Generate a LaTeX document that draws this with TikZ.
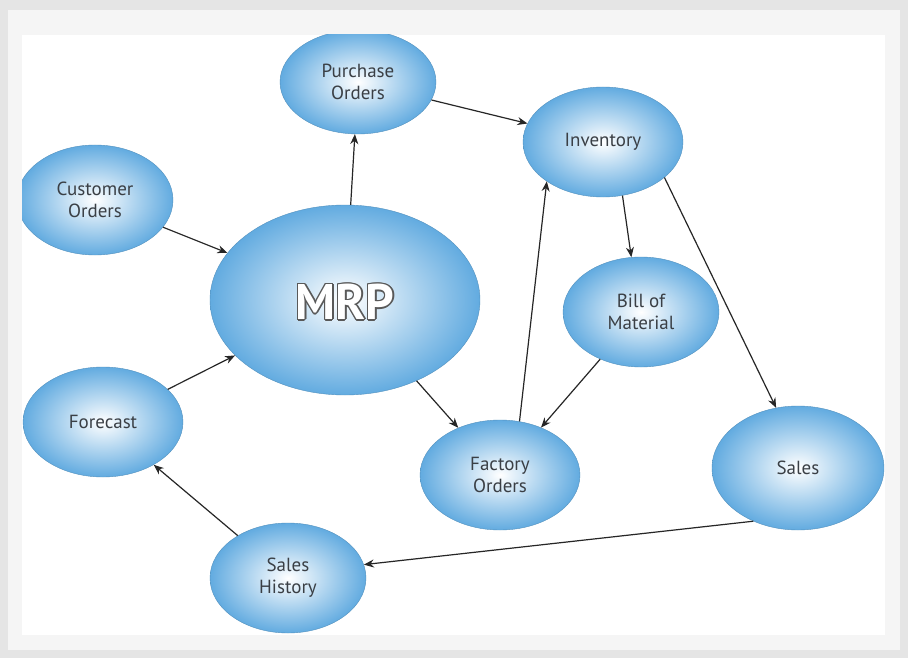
\documentclass[tikz,border=0pt]{standalone}
\usepackage{fontspec}
\setmainfont{PT Sans}
\usetikzlibrary{shapes.geometric,arrows.meta}
\definecolor{bub}{HTML}{62ABE0}
\definecolor{txt}{HTML}{3A3F45}
\tikzset{
 bubble/.style={ellipse,inner sep=0pt,shading=radial,inner color=white,outer color=bub,draw=bub!85!black,line width=0.4pt,text=txt,font=\fontsize{19}{22}\selectfont,align=center},
 conn/.style={-{Stealth[length=10pt,width=8pt]},line width=1.2pt,draw=black!85},
 mrptext/.style={font=\fontsize{50}{52}\selectfont\bfseries},
}
\begin{document}
\begin{tikzpicture}[x=1pt,y=-1pt]
\useasboundingbox (0,0) rectangle (908,658);
\fill[black!10] (0,0) rectangle (908,658);
\fill[black!4] (8,10) rectangle (900,650);
\fill[white] (22,35) rectangle (885,635);
\begin{scope}
\clip (22,35) rectangle (885,635);
\node[bubble,minimum width=156pt,minimum height=104pt] (po) at (358,82) {Purchase\\Orders};
\node[bubble,minimum width=160pt,minimum height=110pt] (inv) at (603,142) {Inventory};
\node[bubble,minimum width=156pt,minimum height=110pt] (co) at (95,200) {Customer\\Orders};
\node[bubble,minimum width=270pt,minimum height=190pt] (mrp) at (345,300) {};
\node[bubble,minimum width=156pt,minimum height=110pt] (bom) at (641,312) {Bill of\\Material};
\node[bubble,minimum width=160pt,minimum height=110pt] (fc) at (103,422) {Forecast};
\node[bubble,minimum width=160pt,minimum height=110pt] (fo) at (500,475) {Factory\\Orders};
\node[bubble,minimum width=172pt,minimum height=124pt] (sa) at (798,468) {Sales};
\node[bubble,minimum width=156pt,minimum height=110pt] (sh) at (288,578) {Sales\\History};
\end{scope}
\foreach \dx/\dy in {-1.6/0,1.6/0,0/-1.6,0/1.6,-1.1/-1.1,1.1/-1.1,-1.1/1.1,1.1/1.1}
  \node[mrptext,text=black!65] at ([xshift=\dx pt,yshift=\dy pt-2pt]mrp) {MRP};
\node[mrptext,text=white] (mrplabel) at ([yshift=-2pt]mrp) {MRP};
\draw[conn] (mrp) -- (po);
\draw[conn] (po) -- (inv);
\draw[conn] (co) -- (mrp);
\draw[conn] (fc) -- (mrp);
\draw[conn] (mrp) -- (fo);
\draw[conn] (fo.70) -- (inv.215);
\draw[conn] (inv.290) -- (bom.100);
\draw[conn] (bom) -- (fo);
\draw[conn] (inv.330) -- (sa.110);
\draw[conn] (sa.230) -- (sh.10);
\draw[conn] (sh) -- (fc);
\end{tikzpicture}
\end{document}
